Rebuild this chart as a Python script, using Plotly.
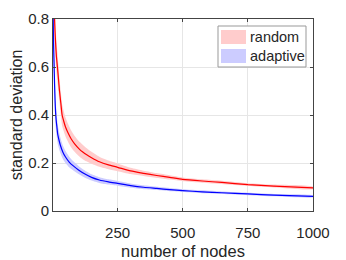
import plotly.graph_objects as go

# data
n_random = [5, 6, 8, 10, 12, 15, 19, 23, 27, 32, 37, 43, 50, 60, 72, 85, 105, 115, 130, 150, 180, 215, 250, 300, 350, 400, 450, 500, 575, 650, 750, 850, 1000]
random_mean = [0.95, 0.88, 0.80, 0.745, 0.70, 0.645, 0.60, 0.55, 0.50, 0.45, 0.40, 0.375, 0.35, 0.325, 0.30, 0.28, 0.256, 0.247, 0.235, 0.222, 0.205, 0.192, 0.182, 0.167, 0.157, 0.148, 0.14, 0.132, 0.125, 0.119, 0.11, 0.104, 0.096]
random_band = [0.09, 0.085, 0.08, 0.075, 0.07, 0.065, 0.06, 0.055, 0.05, 0.047, 0.045, 0.042, 0.04, 0.037, 0.035, 0.033, 0.031, 0.03, 0.028, 0.025, 0.021, 0.018, 0.016, 0.013, 0.011, 0.01, 0.009, 0.008, 0.007, 0.007, 0.006, 0.006, 0.005]

n_adaptive = [2, 3, 4, 5, 6, 8, 10, 12, 14, 17, 20, 24, 30, 40, 50, 65, 80, 100, 123, 150, 180, 215, 250, 300, 350, 400, 450, 500, 575, 650, 750, 850, 1000]
adaptive_mean = [0.86, 0.78, 0.71, 0.66, 0.62, 0.53, 0.46, 0.41, 0.38, 0.35, 0.32, 0.30, 0.275, 0.245, 0.225, 0.203, 0.188, 0.171, 0.155, 0.14, 0.129, 0.121, 0.115, 0.106, 0.099, 0.094, 0.089, 0.085, 0.08, 0.076, 0.071, 0.066, 0.061]
adaptive_band = [0.12, 0.1, 0.09, 0.085, 0.08, 0.07, 0.06, 0.055, 0.05, 0.045, 0.04, 0.036, 0.032, 0.028, 0.025, 0.022, 0.019, 0.017, 0.015, 0.013, 0.012, 0.011, 0.01, 0.009, 0.008, 0.007, 0.007, 0.006, 0.006, 0.005, 0.005, 0.005, 0.004]

x_ticks = [250, 500, 750, 1000]
y_ticks = [0, 0.2, 0.4, 0.6, 0.8]
legend_names = ["random", "adaptive"]
band_colors = ["rgb(255,204,204)", "rgb(204,204,255)"]
line_colors = ["#ff0000", "#0000ff"]


def band(xs, m, b):
    up = [a + d for a, d in zip(m, b)]
    lo = [a - d for a, d in zip(m, b)]
    return list(xs) + list(xs[::-1]), up + lo[::-1]


fig = go.Figure()
for xs, m, b, bc in [(n_random, random_mean, random_band, band_colors[0]),
                     (n_adaptive, adaptive_mean, adaptive_band, band_colors[1])]:
    bx, by = band(xs, m, b)
    fig.add_trace(go.Scatter(x=bx, y=by, fill="toself", fillcolor=bc,
                             line=dict(width=0, color=bc, shape="spline", smoothing=0.6),
                             mode="lines", showlegend=False, hoverinfo="skip"))
for xs, m, lc in [(n_random, random_mean, line_colors[0]),
                  (n_adaptive, adaptive_mean, line_colors[1])]:
    fig.add_trace(go.Scatter(x=xs, y=m, mode="lines",
                             line=dict(color=lc, width=1.2, shape="spline", smoothing=0.6),
                             showlegend=False))

axis_common = dict(showgrid=True, gridcolor="#e6e6e6", gridwidth=1, showline=True,
                   linecolor="#444444", linewidth=1, mirror="ticks", ticks="inside",
                   ticklen=3, tickcolor="#444444", zeroline=False, automargin=False,
                   tickfont=dict(size=15, color="#262626"))

# page body has an 8px default margin; plot area targets x 53..313, y 19..211
fig.update_layout(
    width=338, height=252,
    margin=dict(l=45, r=33, t=11, b=49),
    paper_bgcolor="white", plot_bgcolor="white",
    font=dict(family="Liberation Sans, Arial, sans-serif", color="#262626"),
    xaxis=dict(range=[2, 1000], tickvals=x_ticks, ticktext=[str(v) for v in x_ticks],
               ticklabelstandoff=8,
               title=dict(text="number of nodes", font=dict(size=16.5), standoff=6),
               **axis_common),
    yaxis=dict(range=[0, 0.8], tickvals=y_ticks, ticktext=["0", "0.2", "0.4", "0.6", "0.8"],
               title=dict(text="standard deviation", font=dict(size=16), standoff=4),
               **axis_common),
    showlegend=False,
)

# legend drawn as a box with colour patches (paper coordinates)
fig.add_shape(type="rect", xref="paper", yref="paper",
              x0=(218 - 53) / 260, x1=(306 - 53) / 260,
              y0=(211 - 67) / 192, y1=(211 - 26) / 192,
              line=dict(color="#999999", width=1), fillcolor="white")
for i, (name, bc) in enumerate(zip(legend_names, band_colors)):
    yc = 37 + i * 19
    fig.add_shape(type="rect", xref="paper", yref="paper",
                  x0=(221 - 53) / 260, x1=(246 - 53) / 260,
                  y0=(211 - (yc + 7)) / 192, y1=(211 - (yc - 7)) / 192,
                  line=dict(width=0), fillcolor=bc)
    fig.add_annotation(xref="paper", yref="paper", x=(248 - 53) / 260,
                       y=(211 - yc) / 192, xanchor="left", yanchor="middle",
                       text=name, showarrow=False,
                       font=dict(size=14.5, color="#262626"))

fig.write_html("out.html")
